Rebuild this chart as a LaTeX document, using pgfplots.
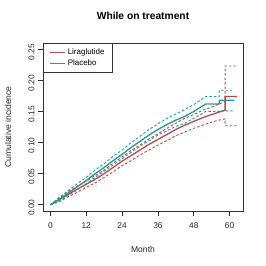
\documentclass[border=0pt]{standalone}
\usepackage{fontspec}
\setmainfont{Liberation Sans}
\usepackage{pgfplots}
\pgfplotsset{compat=1.18}
\definecolor{lira}{RGB}{190,72,72}
\definecolor{plac}{RGB}{28,158,156}
\begin{document}
\begin{tikzpicture}
\path[use as bounding box] (-43bp,-55bp) rectangle (223bp,211bp);
\begin{axis}[
  at={(0,0)}, anchor=south west,
  scale only axis, width=200bp, height=168bp,
  xmin=-2.48, xmax=64.48, ymin=-0.01, ymax=0.26,
  xtick={0,12,24,36,48,60},
  ytick={0,0.05,0.10,0.15,0.20,0.25},
  y tick label style={/pgf/number format/fixed, /pgf/number format/fixed zerofill, /pgf/number format/precision=2},
  /pgf/number format/assume math mode=true,
  tick label style={font=\fontsize{8.4}{10}\selectfont, text=black!85},
  yticklabel style={rotate=90, anchor=south, xshift=-3bp},
  xticklabel style={yshift=-3bp},
  tick align=outside, tick pos=left, major tick length=5bp,
  axis line style={black!80, line width=0.8bp},
  every tick/.style={black!80, line width=0.8bp},
  title={\bfseries While on treatment},
  title style={at={(axis description cs:0.5,1.125)}, anchor=center, font=\fontsize{10.3}{12}\selectfont},
  xlabel={Month}, ylabel={Cumulative incidence},
  every axis x label/.style={at={(axis description cs:0.5,-0.226)}, anchor=center, font=\fontsize{8.6}{10}\selectfont, text=black!85},
  every axis y label/.style={at={(axis description cs:-0.175,0.5)}, rotate=90, anchor=center, font=\fontsize{8.6}{10}\selectfont, text=black!85},
  legend style={at={(0,1)}, anchor=north west, draw=black!80, line width=0.8bp, font=\fontsize{8}{9}\selectfont, inner xsep=6bp, inner ysep=3.5bp, row sep=-0.5bp, cells={anchor=west}},
  legend image code/.code={\draw[#1, line width=1.4bp, solid] (0bp,0bp) -- (15bp,0bp);},
]
% Liraglutide
\addplot[lira, line width=1.3bp] coordinates {
(0,0) (3,0.008) (6,0.017) (9,0.025) (12,0.033) (15,0.041) (18,0.050) (21,0.060) (24,0.070) (27,0.079) (30,0.088) (33,0.097) (36,0.105) (39,0.113) (42,0.121) (45,0.128) (48,0.134) (51,0.140) (54,0.145) (56.5,0.149) (58.5,0.152) (58.5,0.174) (62.5,0.174)};
\addlegendentry{Liraglutide}
\addplot[plac, line width=1.3bp] coordinates {
(0,0) (3,0.009) (6,0.019) (9,0.029) (12,0.039) (15,0.050) (18,0.060) (21,0.071) (24,0.081) (27,0.092) (30,0.102) (33,0.112) (36,0.121) (39,0.129) (42,0.136) (45,0.142) (48,0.150) (51,0.159) (52,0.162) (56.5,0.162) (56.5,0.168) (61.6,0.168)};
\addlegendentry{Placebo}
% CIs
\addplot[lira, line width=0.9bp, dash pattern=on 2.5bp off 2bp, forget plot] coordinates {
(0,0) (3,0.011) (6,0.021) (9,0.030) (12,0.038) (15,0.047) (18,0.056) (21,0.067) (24,0.077) (27,0.087) (30,0.096) (33,0.106) (36,0.114) (39,0.123) (42,0.131) (45,0.139) (48,0.145) (51,0.152) (54,0.157) (56.5,0.162) (58.5,0.166) (58.5,0.223) (62,0.223)};
\addplot[lira, line width=0.9bp, dash pattern=on 2.5bp off 2bp, forget plot] coordinates {
(0,0) (3,0.005) (6,0.013) (9,0.020) (12,0.028) (15,0.035) (18,0.044) (21,0.053) (24,0.063) (27,0.071) (30,0.080) (33,0.088) (36,0.096) (39,0.103) (42,0.111) (45,0.117) (48,0.123) (51,0.128) (54,0.133) (56.5,0.136) (58.5,0.138) (58.5,0.127) (62.5,0.127)};
\addplot[plac, line width=0.9bp, dash pattern=on 2.5bp off 2bp, forget plot] coordinates {
(0,0) (3,0.012) (6,0.023) (9,0.034) (12,0.044) (15,0.056) (18,0.066) (21,0.078) (24,0.088) (27,0.100) (30,0.110) (33,0.121) (36,0.130) (39,0.139) (42,0.146) (45,0.153) (48,0.161) (51,0.171) (52,0.174) (56.5,0.174) (56.5,0.184) (60.8,0.184)};
\addplot[plac, line width=0.9bp, dash pattern=on 2.5bp off 2bp, forget plot] coordinates {
(0,0) (3,0.006) (6,0.015) (9,0.024) (12,0.034) (15,0.044) (18,0.054) (21,0.064) (24,0.074) (27,0.084) (30,0.094) (33,0.103) (36,0.112) (39,0.119) (42,0.126) (45,0.131) (48,0.139) (51,0.147) (52,0.150) (56.5,0.150) (56.5,0.151) (61,0.151)};
\end{axis}
\end{tikzpicture}
\end{document}
